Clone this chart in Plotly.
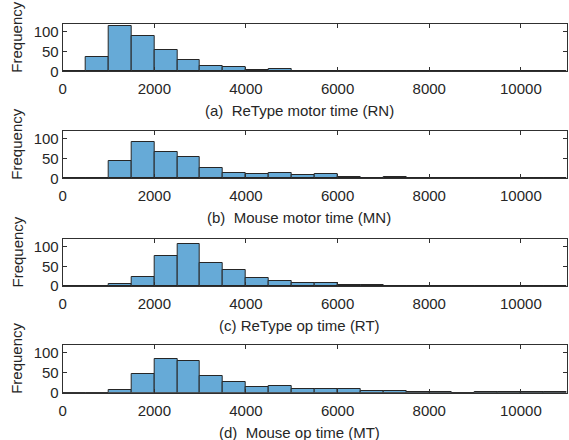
import plotly.graph_objects as go

W, H = 569, 440

bin_width = 500
bin_starts = [i * 500 for i in range(22)]  # 0 .. 10500

# counts per 500-ms bin, bins starting at 0, 500, ..., 10500
rn_counts = [0, 36, 115, 90, 53, 28, 14, 10, 4, 5, 2, 0, 1, 0, 0, 0, 0, 1, 0, 0, 0, 0]
mn_counts = [0, 0, 44, 91, 67, 53, 27, 14, 11, 13, 8, 11, 4, 1, 4, 1, 1, 0, 1, 1, 0, 1]
rt_counts = [0, 0, 6, 22, 76, 106, 58, 42, 21, 12, 7, 7, 3, 2, 1, 1, 1, 1, 1, 1, 0, 0]
mt_counts = [0, 0, 6, 48, 84, 80, 42, 26, 15, 16, 10, 10, 10, 4, 4, 2, 1, 0, 1, 2, 1, 1]

series = [rn_counts, mn_counts, rt_counts, mt_counts]
captions = ["(a)  ReType motor time (RN)", "(b)  Mouse motor time (MN)",
            "(c) ReType op time (RT)", "(d)  Mouse op time (MT)"]
x_ticks = [0, 2000, 4000, 6000, 8000, 10000]
y_ticks = [0, 50, 100]
x_range = [0, 11000]
y_range = [0, 120]

# plot-area pixel boxes (top, bottom)
boxes = [(24, 71.3), (131, 178.3), (239, 286), (345, 392.7)]
x_left, x_right = 62.7, 566.7

fig = go.Figure()
family = "Liberation Sans, Arial, sans-serif"
font = dict(family=family, size=15, color="#262626")
axis_color = "#303030"

for i, counts in enumerate(series):
    n = i + 1
    xa = "x" if n == 1 else f"x{n}"
    ya = "y" if n == 1 else f"y{n}"
    centers = [s + bin_width / 2 for s in bin_starts]
    fig.add_trace(go.Bar(
        x=centers, y=counts, width=bin_width,
        marker=dict(color="rgb(102,170,215)", line=dict(color="#262626", width=1)),
        xaxis=xa, yaxis=ya, showlegend=False, hoverinfo="x+y",
    ))
    top, bot = boxes[i]
    xkey = "xaxis" if n == 1 else f"xaxis{n}"
    ykey = "yaxis" if n == 1 else f"yaxis{n}"
    fig.layout[xkey] = dict(
        domain=[x_left / W, x_right / W], anchor=ya, range=x_range,
        tickvals=x_ticks, ticktext=[str(v) for v in x_ticks],
        ticks="inside", ticklen=4, tickcolor=axis_color, tickwidth=1,
        showline=True, linecolor=axis_color, linewidth=1, mirror="ticks",
        showgrid=False, zeroline=False, tickfont=font, automargin=False,
        ticklabelstandoff=4,
    )
    fig.layout[ykey] = dict(
        domain=[1 - bot / H, 1 - top / H], anchor=xa, range=y_range,
        tickvals=y_ticks, ticktext=[str(v) for v in y_ticks],
        ticks="inside", ticklen=4, tickcolor=axis_color, tickwidth=1,
        showline=True, linecolor=axis_color, linewidth=1, mirror="ticks",
        showgrid=False, zeroline=False, tickfont=font, automargin=False,
    )
    fig.add_annotation(
        text=captions[i], xref="paper", yref="paper",
        x=299 / W, y=1 - (bot + 39.5) / H, showarrow=False,
        font=dict(family=family, size=15, color="#262626"),
        xanchor="center", yanchor="middle",
    )
    fig.add_annotation(
        text="Frequency", xref="paper", yref="paper",
        x=17 / W, y=1 - ((top + bot) / 2 - 10) / H, showarrow=False, textangle=-90,
        font=dict(family=family, size=15, color="#262626"),
        xanchor="center", yanchor="middle",
    )

fig.update_layout(
    width=W, height=H, margin=dict(l=0, r=0, t=0, b=0),
    paper_bgcolor="white", plot_bgcolor="white", bargap=0,
    template="none",
)

fig.write_html(
    "out.html",
    config={"displayModeBar": False},
    post_script="document.body.style.margin='0px';document.body.style.overflow='hidden';",
)
